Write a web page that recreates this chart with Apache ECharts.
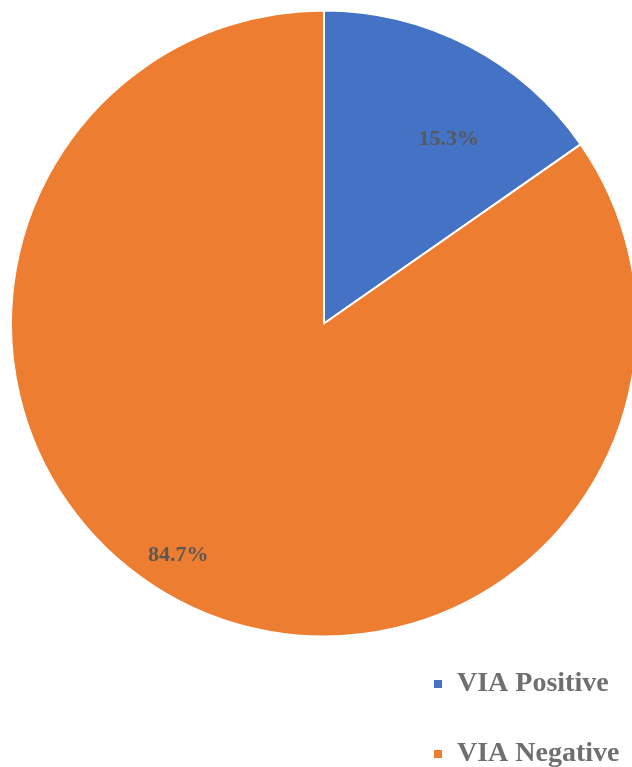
<!DOCTYPE html>
<html>
<head>
<meta charset="utf-8">
<script src="https://cdn.jsdelivr.net/npm/echarts@6/dist/echarts.min.js"></script>
<style>
  html, body { margin: 0; padding: 0; background: #fff; }
  #chart { width: 632px; height: 767px; }
</style>
</head>
<body>
<div id="chart"></div>
<script>
const categories = ["VIA Positive", "VIA Negative"];
const percents = [15.3, 84.7];
const colors = ["#4472C4", "#ED7D31"];
// nudge the inside labels out to where the original sits
const labelOffsets = [[51, -43], [-72, 90]];
const legendTops = [669, 739];

const chart = echarts.init(document.getElementById("chart"));

const legendText = {
  fontFamily: "Liberation Serif",
  fontWeight: "bold",
  fontSize: 28,
  lineHeight: 30,
  color: "#6f6f6f",
  padding: [0, 0, 0, 9]
};

chart.setOption({
  animation: false,
  legend: categories.map((name, i) => ({
    left: 432,
    top: legendTops[i],
    padding: 0,
    icon: "rect",
    itemWidth: 10,
    itemHeight: 10,
    data: [name],
    textStyle: legendText
  })),
  series: [
    {
      type: "pie",
      center: [324, 323.5],
      radius: [0, 313],
      startAngle: 90,
      clockwise: true,
      label: {
        show: true,
        position: "inside",
        formatter: (p) => p.value.toFixed(1) + "%",
        fontFamily: "Liberation Serif",
        fontWeight: "bold",
        fontSize: 22,
        color: "#595959"
      },
      labelLine: { show: false },
      emphasis: { disabled: true },
      itemStyle: { borderColor: "#fff", borderWidth: 2 },
      data: categories.map((name, i) => ({
        name,
        value: percents[i],
        itemStyle: { color: colors[i] },
        label: { offset: labelOffsets[i] }
      }))
    }
  ]
});
</script>
</body>
</html>
